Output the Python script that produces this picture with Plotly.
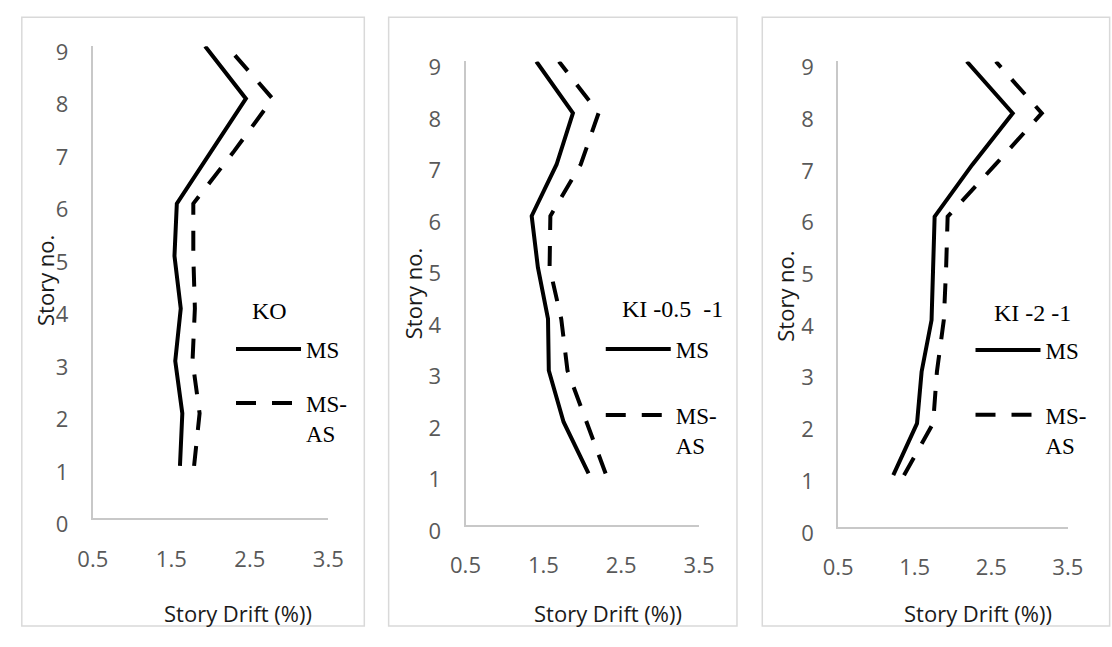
import plotly.graph_objects as go

W, H = 1112, 647

stories = [1, 2, 3, 4, 5, 6, 7, 8, 9]
titles = ["KO", "KI -0.5  -1", "KI -2 -1"]
series_names = ["MS", "MS-<br>AS"]

ko_ms = [1.61, 1.64, 1.55, 1.62, 1.54, 1.57, 2.01, 2.45, 1.93]
ko_msas = [1.79, 1.86, 1.77, 1.80, 1.78, 1.78, 2.30, 2.79, 2.21]
ki05_ms = [2.08, 1.76, 1.57, 1.56, 1.43, 1.35, 1.67, 1.88, 1.41]
ki05_msas = [2.30, 2.06, 1.81, 1.73, 1.58, 1.59, 1.98, 2.21, 1.70]
ki2_ms = [1.22, 1.53, 1.59, 1.72, 1.74, 1.76, 2.25, 2.78, 2.18]
ki2_msas = [1.36, 1.74, 1.79, 1.88, 1.91, 1.93, 2.55, 3.16, 2.56]

x_ticks = [0.5, 1.5, 2.5, 3.5]
y_ticks = [0, 1, 2, 3, 4, 5, 6, 7, 8, 9]

panels = [(ko_ms, ko_msas), (ki05_ms, ki05_msas), (ki2_ms, ki2_msas)]

# layout in pixels
plot_px = [  # x0, x1, ytop, ybottom
    (80, 322, 38, 533),
    (463, 703, 54, 540),
    (846, 1082, 54, 542),
]
border_px = [(7, 359), (384, 742), (768, 1125)]
xtitle_cx = [229, 609, 990]
ytitle_cx = [31, 409, 791]
ytitle_cy = [284, 297, 300]
leg_title = [(262, 316), (676, 314), (1046, 318)]
legend_px = [(222, 333), (602, 333), (982, 334)]
group_gap = [21, 33, 32]

fig = go.Figure()
tick_font = dict(family="Open Sans", size=22, color="#595959")

for i, (ms, msas) in enumerate(panels):
    xa = "x" if i == 0 else f"x{i+1}"
    ya = "y" if i == 0 else f"y{i+1}"
    lg = "legend" if i == 0 else f"legend{i+1}"
    fig.add_trace(go.Scatter(x=ms, y=stories, mode="lines", name=series_names[0],
                             line=dict(color="black", width=4), xaxis=xa, yaxis=ya,
                             legend=lg, legendgroup=f"a{i}"))
    fig.add_trace(go.Scatter(x=msas, y=stories, mode="lines", name=series_names[1],
                             line=dict(color="black", width=4, dash="20px,16px"),
                             xaxis=xa, yaxis=ya, legend=lg, legendgroup=f"b{i}"))
    x0, x1, yt, yb = plot_px[i]
    xkey = "xaxis" if i == 0 else f"xaxis{i+1}"
    ykey = "yaxis" if i == 0 else f"yaxis{i+1}"
    fig.layout[xkey] = dict(domain=[x0 / W, x1 / W], range=[0.5, 3.5], tickvals=x_ticks,
                            ticktext=[str(v) for v in x_ticks], showgrid=False, zeroline=False,
                            showline=True, linecolor="#c8c8c8", linewidth=2,
                            tickfont=tick_font, ticks="", ticklabelstandoff=20,
                            anchor=ya, fixedrange=True)
    fig.layout[ykey] = dict(domain=[1 - yb / H, 1 - yt / H], range=[0, 9], tickvals=y_ticks,
                            showgrid=False, zeroline=False, showline=True, linecolor="#c8c8c8",
                            linewidth=2, tickfont=tick_font, ticks="", ticklabelstandoff=18,
                            ticklabelshift=6, anchor=xa, fixedrange=True)
    bx0, bx1 = border_px[i]
    fig.add_shape(type="rect", xref="paper", yref="paper", x0=bx0 / W, x1=bx1 / W,
                  y0=1 - 646 / H, y1=1 - 7.5 / H, line=dict(color="#d9d9d9", width=1.5),
                  layer="below")
    # axis titles
    fig.add_annotation(text="Story Drift (%))", xref="paper", yref="paper",
                       x=xtitle_cx[i] / W, y=1 - 632 / H, showarrow=False,
                       font=dict(family="Open Sans", size=22, color="#1a1a1a"),
                       xanchor="center", yanchor="middle")
    fig.add_annotation(text="Story no.", xref="paper", yref="paper",
                       x=ytitle_cx[i] / W, y=1 - ytitle_cy[i] / H, showarrow=False,
                       textangle=-90,
                       font=dict(family="Open Sans", size=22, color="#1a1a1a"),
                       xanchor="center", yanchor="middle")
    # legend title
    tx, ty = leg_title[i]
    fig.add_annotation(text=titles[i], xref="paper", yref="paper", x=tx / W, y=1 - ty / H,
                       showarrow=False, xanchor="center", yanchor="middle",
                       font=dict(family="Liberation Serif", size=24, color="black"))
    lx, ly = legend_px[i]
    fig.layout[lg] = dict(x=lx / W, y=1 - ly / H, xanchor="left", yanchor="top",
                          font=dict(family="Liberation Serif", size=23, color="black"),
                          itemwidth=65, tracegroupgap=group_gap[i], valign="top",
                          bgcolor="rgba(0,0,0,0)", itemclick=False, itemdoubleclick=False)

fig.update_layout(width=W, height=H, margin=dict(l=0, r=0, t=0, b=0),
                  paper_bgcolor="white", plot_bgcolor="white", showlegend=True)

fig.write_html("out.html", config={"displayModeBar": False},
               post_script="document.body.style.margin='0';document.body.style.overflow='hidden';")
